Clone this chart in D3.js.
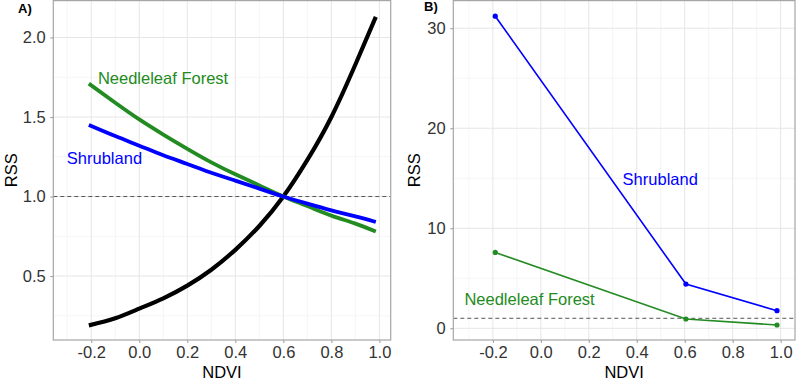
<!DOCTYPE html>
<html>
<head>
<meta charset="utf-8">
<script src="https://cdn.jsdelivr.net/npm/d3@7"></script>
<style>
  body { margin: 0; background: #fff; }
  text { font-family: "Liberation Sans", Arial, sans-serif; }
</style>
</head>
<body>
<div id="chart"></div>
<script>
// panel A: smooth RSS curves
let ndviA = [-0.21, -0.1, 0.0, 0.1, 0.2, 0.3, 0.4, 0.5, 0.6, 0.7, 0.8, 0.9, 0.985];
let overallA = [0.19, 0.235, 0.295, 0.36, 0.44, 0.54, 0.665, 0.815, 1.0, 1.23, 1.50, 1.83, 2.13];
let needleA = [1.71, 1.59, 1.485, 1.39, 1.30, 1.215, 1.14, 1.07, 1.0, 0.94, 0.88, 0.83, 0.78];
let shrubA = [1.45, 1.38, 1.32, 1.26, 1.205, 1.15, 1.10, 1.05, 1.0, 0.955, 0.913, 0.875, 0.84];

// panel B: three points per class
let ndviB = [-0.19, 0.605, 0.985];
let shrubB = [31.2, 4.42, 1.76];
let needleB = [7.58, 0.93, 0.33];

let xTicks = [-0.2, 0.0, 0.2, 0.4, 0.6, 0.8, 1.0];
let xMinor = [-0.3, -0.1, 0.1, 0.3, 0.5, 0.7, 0.9];
let yTicksA = [0.5, 1.0, 1.5, 2.0];
let yMinorA = [0.25, 0.75, 1.25, 1.75];
let yTicksB = [0, 10, 20, 30];
let yMinorB = [5, 15, 25];

let green = "#228B22", blue = "#0000FF";

// hyphen instead of unicode minus, like the original
let fmt1 = d => d.toFixed(1);
let fmt0 = d => d.toFixed(0);

let svg = d3.select("#chart").append("svg")
    .attr("width", 796)
    .attr("height", 381);

function drawPanel(opt) {
    let x = d3.scaleLinear().domain(opt.xdom).range([opt.left, opt.right]);
    let y = d3.scaleLinear().domain(opt.ydom).range([opt.bottom, opt.top]);
    let g = svg.append("g");

    // grid
    g.selectAll(".vminor").data(xMinor).enter().append("line")
        .attr("x1", d => x(d)).attr("x2", d => x(d))
        .attr("y1", opt.top).attr("y2", opt.bottom)
        .attr("stroke", "#f2f2f2").attr("stroke-width", 0.8);
    g.selectAll(".hminor").data(opt.yMinor).enter().append("line")
        .attr("y1", d => y(d)).attr("y2", d => y(d))
        .attr("x1", opt.left).attr("x2", opt.right)
        .attr("stroke", "#f2f2f2").attr("stroke-width", 0.8);
    g.selectAll(".vmajor").data(xTicks).enter().append("line")
        .attr("x1", d => x(d)).attr("x2", d => x(d))
        .attr("y1", opt.top).attr("y2", opt.bottom)
        .attr("stroke", "#e6e6e6").attr("stroke-width", 1);
    g.selectAll(".hmajor").data(opt.yTicks).enter().append("line")
        .attr("y1", d => y(d)).attr("y2", d => y(d))
        .attr("x1", opt.left).attr("x2", opt.right)
        .attr("stroke", "#e6e6e6").attr("stroke-width", 1);

    // axes
    let xAxis = d3.axisBottom(x).tickValues(xTicks).tickFormat(fmt1).tickSize(3).tickSizeOuter(0);
    let yAxis = d3.axisLeft(y).tickValues(opt.yTicks).tickFormat(opt.yfmt).tickSize(3).tickSizeOuter(0);

    let gx = g.append("g").attr("transform", "translate(0," + opt.bottom + ")").call(xAxis);
    let gy = g.append("g").attr("transform", "translate(" + opt.left + ",0)").call(yAxis);
    [gx, gy].forEach(a => {
        a.select(".domain").remove();
        a.selectAll(".tick line").attr("stroke", "#999");
        a.selectAll(".tick text")
            .attr("fill", "#333")
            .style("font-size", "16.5px");
    });
    gx.selectAll(".tick text").attr("dy", "0.75em");
    gy.selectAll(".tick text").attr("dx", "-0.1em");

    // reference line
    g.append("line")
        .attr("x1", opt.left).attr("x2", opt.right)
        .attr("y1", y(1)).attr("y2", y(1))
        .attr("stroke", "#555").attr("stroke-width", 1)
        .attr("stroke-dasharray", "4,3");

    // border
    g.append("rect")
        .attr("x", opt.left).attr("y", opt.top)
        .attr("width", opt.right - opt.left).attr("height", opt.bottom - opt.top)
        .attr("fill", "none").attr("stroke", "#a6a6a6").attr("stroke-width", 1.2);

    // titles
    g.append("text")
        .attr("x", (opt.left + opt.right) / 2).attr("y", 378)
        .attr("text-anchor", "middle").style("font-size", "16.5px")
        .text("NDVI");
    g.append("text")
        .attr("transform", "translate(" + opt.ytitleX + "," + ((opt.top + opt.bottom) / 2) + ") rotate(-90)")
        .attr("text-anchor", "middle").attr("dy", "0.35em").style("font-size", "16.5px")
        .text("RSS");
    g.append("text")
        .attr("x", opt.tagX).attr("y", opt.tagY)
        .style("font-size", "13px").style("font-weight", "bold")
        .text(opt.tag);

    return {x: x, y: y, g: g};
}

// ---- panel A
let pA = drawPanel({
    left: 53.3, right: 390.7, top: 0.6, bottom: 340,
    xdom: [-0.358, 1.047], ydom: [0.098, 2.232],
    yTicks: yTicksA, yMinor: yMinorA, yfmt: fmt1,
    ytitleX: 11, tag: "A)", tagX: 18, tagY: 13
});

let lineA = d3.line()
    .x((d, i) => pA.x(ndviA[i]))
    .y(d => pA.y(d))
    .curve(d3.curveNatural);

[[overallA, "#000", 4.2], [needleA, green, 3.8], [shrubA, blue, 3.8]].forEach(s => {
    pA.g.append("path")
        .attr("d", lineA(s[0]))
        .attr("fill", "none")
        .attr("stroke", s[1])
        .attr("stroke-width", s[2]);
});

pA.g.append("text")
    .attr("x", pA.x(0.099)).attr("y", pA.y(1.746)).attr("dy", "0.35em")
    .attr("text-anchor", "middle").attr("fill", green).style("font-size", "16.5px")
    .text("Needleleaf Forest");
pA.g.append("text")
    .attr("x", pA.x(-0.145)).attr("y", pA.y(1.244)).attr("dy", "0.35em")
    .attr("text-anchor", "middle").attr("fill", blue).style("font-size", "16.5px")
    .text("Shrubland");

// ---- panel B
let pB = drawPanel({
    left: 453.3, right: 795, top: 0.6, bottom: 340,
    xdom: [-0.365, 1.06], ydom: [-1.17, 32.76],
    yTicks: yTicksB, yMinor: yMinorB, yfmt: fmt0,
    ytitleX: 414, tag: "B)", tagX: 424, tagY: 11
});

let lineB = d3.line()
    .x((d, i) => pB.x(ndviB[i]))
    .y(d => pB.y(d));

[[shrubB, blue], [needleB, green]].forEach(s => {
    pB.g.append("path")
        .attr("d", lineB(s[0]))
        .attr("fill", "none")
        .attr("stroke", s[1])
        .attr("stroke-width", 1.6);
    pB.g.selectAll(null).data(s[0]).enter().append("circle")
        .attr("cx", (d, i) => pB.x(ndviB[i]))
        .attr("cy", d => pB.y(d))
        .attr("r", 2.6)
        .attr("fill", s[1]);
});

pB.g.append("text")
    .attr("x", pB.x(0.498)).attr("y", pB.y(14.9)).attr("dy", "0.35em")
    .attr("text-anchor", "middle").attr("fill", blue).style("font-size", "16.5px")
    .text("Shrubland");
pB.g.append("text")
    .attr("x", pB.x(-0.047)).attr("y", pB.y(2.9)).attr("dy", "0.35em")
    .attr("text-anchor", "middle").attr("fill", green).style("font-size", "16.5px")
    .text("Needleleaf Forest");
</script>
</body>
</html>
